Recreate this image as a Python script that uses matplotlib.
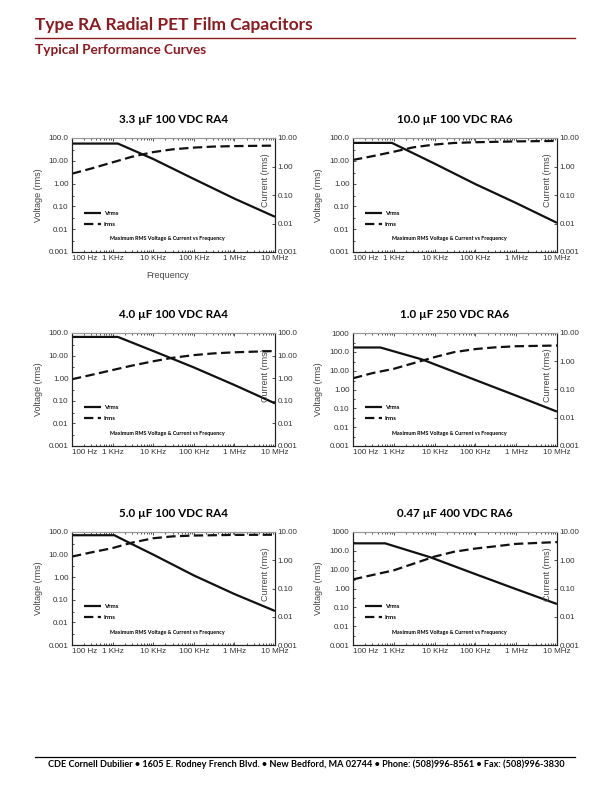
# ra_curves.py - Type RA radial PET film capacitors, max RMS voltage/current vs frequency

import matplotlib
matplotlib.use("Agg")
import matplotlib.pyplot as plt
from matplotlib.lines import Line2D
from matplotlib.ticker import LogLocator, NullFormatter

RED = "#8c1a1e"
NARROW = ["Lato", "DejaVu Sans"]
plt.rcParams["font.family"] = ["Liberation Sans", "DejaVu Sans"]

# ── 1. Values ────────────────────────────────────────────────────────────────

freq_ticks = [1e2, 1e3, 1e4, 1e5, 1e6, 1e7]
freq_labels = ["100 Hz", "1 KHz", "10 KHz", "100 KHz", "1 MHz", "10 MHz"]

titles = [
    "3.3 µF 100 VDC RA4", "10.0 µF 100 VDC RA6",
    "4.0 µF 100 VDC RA4", "1.0 µF 250 VDC RA6",
    "5.0 µF 100 VDC RA4", "0.47 µF 400 VDC RA6",
]

# 3.3 uF 100 VDC
v_freq_1 = [100, 1350, 1e4, 1e5, 1e6, 1e7]
v_rms_1 = [57, 57, 12, 1.6, 0.22, 0.035]
i_freq_1 = [100, 300, 1e3, 3e3, 1e4, 3e4, 1e5, 3e5, 1e6, 1e7]
i_rms_1 = [0.56, 0.85, 1.4, 2.2, 3.2, 4.0, 4.6, 5.0, 5.2, 5.4]

# 10.0 uF 100 VDC
v_freq_2 = [100, 900, 1e4, 1e5, 1e6, 1e7]
v_rms_2 = [61, 61, 7.5, 0.95, 0.14, 0.019]
i_freq_2 = [100, 300, 1e3, 3e3, 1e4, 3e4, 1e5, 1e6, 1e7]
i_rms_2 = [1.7, 2.3, 3.3, 4.7, 5.9, 6.7, 7.1, 7.6, 7.9]

# 4.0 uF 100 VDC
v_freq_3 = [100, 1350, 1e4, 1e5, 1e6, 1e7]
v_rms_3 = [67, 67, 16, 3.0, 0.5, 0.077]
i_freq_3 = [100, 300, 1e3, 3e3, 1e4, 3e4, 1e5, 3e5, 1e6, 1e7]
i_rms_3 = [0.9, 1.4, 2.3, 3.6, 5.6, 8.0, 10.5, 12.5, 14.0, 16.0]

# 1.0 uF 250 VDC
v_freq_4 = [100, 470, 5e3, 1e5, 1e6, 1e7]
v_rms_4 = [170, 170, 39, 3.2, 0.47, 0.067]
i_freq_4 = [100, 300, 1e3, 3e3, 1e4, 3e4, 1e5, 3e5, 1e6, 1e7]
i_rms_4 = [0.25, 0.38, 0.54, 0.85, 1.4, 2.1, 2.7, 3.1, 3.4, 3.6]

# 5.0 uF 100 VDC
v_freq_5 = [100, 1100, 2700, 1e4, 1e5, 1e6, 1e7]
v_rms_5 = [72, 72, 32, 10, 1.2, 0.18, 0.032]
i_freq_5 = [100, 300, 1e3, 3e3, 1e4, 3e4, 1e5, 1e6, 1e7]
i_rms_5 = [1.35, 1.9, 2.7, 4.2, 6.0, 7.0, 7.5, 7.9, 8.0]

# 0.47 uF 400 VDC
v_freq_6 = [100, 615, 8e3, 1e5, 1e6, 1e7]
v_rms_6 = [250, 250, 45, 5.8, 0.92, 0.15]
i_freq_6 = [100, 300, 1e3, 3e3, 1e4, 3e4, 1e5, 3e5, 1e6, 1e7]
i_rms_6 = [0.21, 0.30, 0.44, 0.75, 1.35, 2.0, 2.6, 3.1, 3.8, 4.4]

left_ticks_5 = [1e-3, 1e-2, 1e-1, 1, 10, 100]
left_labels_5 = ["0.001", "0.01", "0.10", "1.00", "10.00", "100.0"]
left_ticks_6 = left_ticks_5 + [1000]
left_labels_6 = left_labels_5 + ["1000"]
right_ticks_4 = [1e-3, 1e-2, 1e-1, 1, 10]
right_labels_4 = ["0.001", "0.01", "0.10", "1.00", "10.00"]
right_ticks_5 = right_ticks_4 + [100]
right_labels_5 = right_labels_4 + ["100.0"]

charts = [
    (v_freq_1, v_rms_1, i_freq_1, i_rms_1, left_ticks_5, left_labels_5, right_ticks_4, right_labels_4),
    (v_freq_2, v_rms_2, i_freq_2, i_rms_2, left_ticks_5, left_labels_5, right_ticks_4, right_labels_4),
    (v_freq_3, v_rms_3, i_freq_3, i_rms_3, left_ticks_5, left_labels_5, right_ticks_5, right_labels_5),
    (v_freq_4, v_rms_4, i_freq_4, i_rms_4, left_ticks_6, left_labels_6, right_ticks_4, right_labels_4),
    (v_freq_5, v_rms_5, i_freq_5, i_rms_5, left_ticks_5, left_labels_5, right_ticks_4, right_labels_4),
    (v_freq_6, v_rms_6, i_freq_6, i_rms_6, left_ticks_6, left_labels_6, right_ticks_4, right_labels_4),
]

# ── 2. Page layout (pixel boxes of each plot frame: left, right, top, bottom) ─

W, H = 612, 792
boxes = [
    (72, 275, 138, 252), (353, 557, 138, 252),
    (72, 275, 333, 446), (353, 557, 333, 446),
    (72, 275, 532, 645), (353, 557, 532, 645),
]

fig = plt.figure(figsize=(W / 100, H / 100), dpi=100)

# header
fig.text(35 / W, 1 - 25 / H, "Type RA Radial PET Film Capacitors", color=RED,
         fontsize=12.5, fontweight="bold", family=NARROW, va="center", ha="left")
fig.add_artist(Line2D([35 / W, 575 / W], [1 - 37.5 / H] * 2, color=RED, lw=1.0))
fig.text(35 / W, 1 - 50 / H, "Typical Performance Curves", color=RED,
         fontsize=9.8, fontweight="bold", family=NARROW, va="center", ha="left")

# footer
fig.add_artist(Line2D([35 / W, 575 / W], [1 - 757 / H] * 2, color="black", lw=0.9))
fig.text(306 / W, 1 - 764.5 / H,
         "CDE Cornell Dubilier • 1605 E. Rodney French Blvd. • New Bedford, MA 02744 • "
         "Phone: (508)996-8561 • Fax: (508)996-3830",
         fontsize=6.6, fontweight="bold", family=NARROW, va="center", ha="center")

GREY = "#333333"

# ── 3. The six charts ────────────────────────────────────────────────────────

for n, (box, title, data) in enumerate(zip(boxes, titles, charts)):
    vf, vv, fi, iv, lt, ll, rt, rl = data
    x0, x1, y0, y1 = box
    ax = fig.add_axes([x0 / W, 1 - y1 / H, (x1 - x0) / W, (y1 - y0) / H])
    ax2 = ax.twinx()

    ax.plot(vf, vv, color="#111111", lw=1.6, solid_capstyle="butt", label="Vrms")
    ax2.plot(fi, iv, color="#111111", lw=1.6, dashes=(4.2, 2.0), label="Irms")

    ax.set_xscale("log")
    ax.set_yscale("log")
    ax2.set_yscale("log")
    ax.set_xlim(1e2, 1e7)
    ax.set_ylim(lt[0], lt[-1])
    ax2.set_ylim(rt[0], rt[-1])

    ax.set_xticks(freq_ticks)
    ax.set_xticklabels(freq_labels)
    ax.xaxis.set_minor_locator(LogLocator(base=10, subs=range(2, 10)))
    ax.xaxis.set_minor_formatter(NullFormatter())
    ax.set_yticks(lt)
    ax.set_yticklabels(ll)
    ax.yaxis.set_minor_locator(LogLocator(base=10, subs=[3]))
    ax.yaxis.set_minor_formatter(NullFormatter())
    ax2.set_yticks(rt)
    ax2.set_yticklabels(rl)
    ax2.yaxis.set_minor_locator(LogLocator(base=10, subs=[]))

    ax.tick_params(which="both", direction="in", top=True, colors=GREY,
                   labelsize=5.8, pad=2.5, width=0.6)
    ax.tick_params(which="major", length=2.5)
    ax.tick_params(which="minor", length=1.5)
    ax2.tick_params(direction="in", colors=GREY, labelsize=5.8, pad=2,
                    length=2.5, width=0.6)
    ax.get_xticklabels()[0].set_ha("left")

    for a in (ax, ax2):
        for side, sp in a.spines.items():
            sp.set_linewidth(0.8)
            sp.set_color("#999999" if side == "top" else "#222222")

    ax.set_ylabel("Voltage (rms)", fontsize=6.5, color="#444444")
    ax.yaxis.set_label_coords(-0.145, 0.5)
    ax.text(0.952, 0.63, "Current (rms)", transform=ax.transAxes, rotation=90,
            ha="center", va="center", fontsize=6.5, color="#444444")
    if n == 0:
        ax.set_xlabel("Frequency", fontsize=6.5, color="#444444")
        ax.xaxis.set_label_coords(0.47, -0.165)

    ax.set_title(title, fontsize=8.4, fontweight="bold", family=NARROW, pad=11)

    ax.text(0.47, 0.115, "Maximum RMS Voltage & Current vs Frequency",
            transform=ax.transAxes, ha="center", va="center",
            fontsize=3.9, fontweight="bold", family=NARROW)

    handles = ax.get_lines()[:1] + ax2.get_lines()[:1]
    ax2.legend(handles, ["Vrms", "Irms"], loc="center left",
               bbox_to_anchor=(0.03, 0.29), handlelength=2.9,
               handletextpad=0.4, labelspacing=0.9, frameon=False,
               prop={"family": NARROW, "weight": "bold", "size": 4.4})

OUTPUT_FILE = "out.png"
fig.savefig(OUTPUT_FILE, dpi=100)
print(f"Chart saved as: {OUTPUT_FILE}")
